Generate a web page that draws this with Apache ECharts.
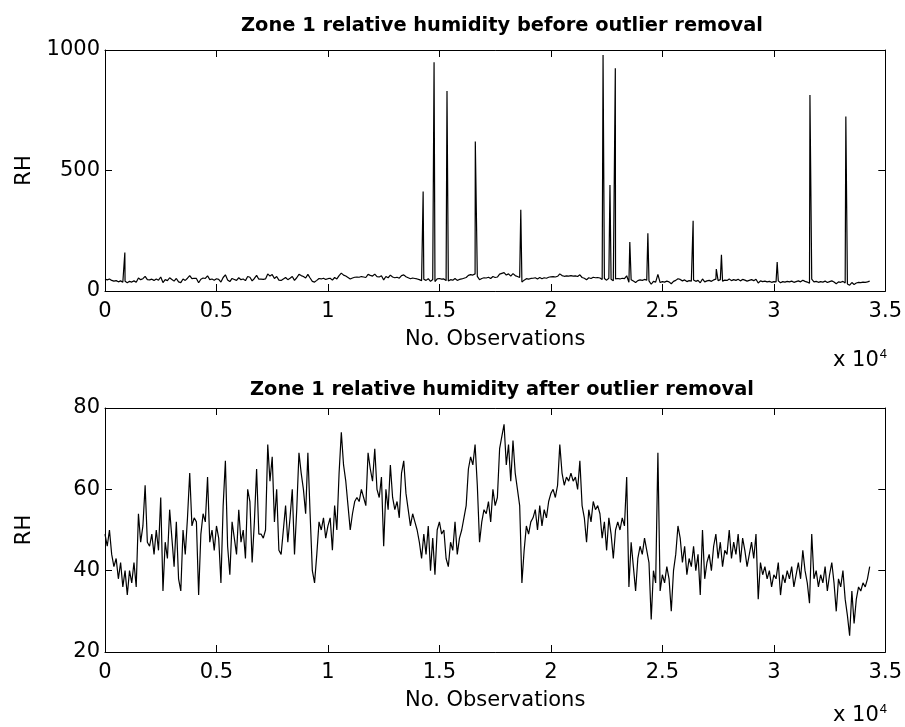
<!DOCTYPE html>
<html lang="en">
<head>
    <meta charset="utf-8">
    <title>Zone 1 relative humidity</title>
    <script src="https://cdn.jsdelivr.net/npm/echarts@6/dist/echarts.min.js"></script>
    <style>
        html, body { margin: 0; padding: 0; background: #fff; }
    </style>
</head>
<body>
<div id="main" style="width:905px;height:727px;"></div>

<script type="text/javascript">
    // RH after outlier removal, one reading every OBS_STEP observations
    var OBS_STEP = 100;
    var RH_CLEAN = [
        49, 46, 50, 44, 41, 43, 38, 42, 36, 40,
        34, 40, 37, 42, 36, 54, 47, 51, 61, 47,
        46, 49, 44, 50, 45, 58, 35, 47, 43, 55,
        48, 41, 52, 38, 35, 50, 44, 53, 64, 51,
        53, 52, 34, 49, 54, 52, 63, 47, 50, 45,
        51, 48, 37, 56, 67, 46, 39, 52, 48, 44,
        55, 47, 50, 43, 60, 57, 42, 52, 65, 49,
        49, 48, 50, 71, 62, 68, 52, 60, 45, 44,
        50, 56, 47, 53, 60, 44, 55, 69, 64, 60,
        54, 69, 54, 40, 37, 44, 52, 50, 53, 48,
        51, 53, 45, 56, 50, 64, 74, 66, 62, 56,
        50, 54, 57, 58, 57, 60, 58, 56, 69, 65,
        62, 70, 60, 58, 63, 46, 60, 55, 66, 58,
        55, 57, 53, 64, 67, 59, 55, 51, 54, 52,
        50, 47, 43, 49, 44, 51, 40, 48, 39, 50,
        52, 49, 50, 43, 41, 47, 45, 52, 44, 48,
        50, 53, 56, 65, 68, 66, 71, 61, 47, 52,
        55, 54, 57, 52, 60, 56, 58, 70, 73, 76,
        66, 71, 62, 72, 64, 60, 56, 37, 45, 51,
        49, 52, 53, 55, 50, 56, 51, 55, 53, 57,
        59, 60, 58, 61, 71, 64, 61, 63, 62, 64,
        62, 63, 60, 67, 56, 53, 47, 55, 52, 57,
        55, 56, 54, 48, 52, 45, 53, 49, 43, 50,
        52, 50, 53, 51, 63, 36, 47, 41, 35, 43,
        46, 44, 48, 45, 42, 28, 40, 37, 69, 35,
        39, 37, 41, 38, 30, 40, 44, 51, 48, 42,
        46, 39, 43, 41, 46, 40, 44, 34, 50, 38,
        42, 44, 40, 46, 49, 43, 47, 41, 45, 44,
        50, 43, 47, 44, 49, 42, 48, 45, 41, 44,
        47, 43, 49, 33, 42, 39, 41, 38, 40, 36,
        39, 38, 42, 34, 39, 37, 40, 38, 41, 36,
        39, 42, 38, 45, 40, 37, 32, 49, 38, 40,
        36, 39, 37, 41, 35, 39, 42, 37, 30, 38,
        36, 40, 33, 29, 24, 35, 27, 33, 36, 35,
        37, 36, 38, 41
    ];

    // spikes that were removed (observation number, RH)
    var OUTLIER_OBS = [890, 14270, 14760, 15340, 16610, 18650, 22340, 22650, 22890,
        23540, 24350, 26380, 27420, 27650, 30150, 31620, 33230];
    var OUTLIER_RH = [160, 413, 949, 830, 620, 337, 979, 440, 924,
        203, 240, 291, 91, 150, 120, 813, 724];

    var X_TICK_LABELS = ['0', '0.5', '1', '1.5', '2', '2.5', '3', '3.5'];

    var FONT = 'DejaVu Sans, sans-serif';
    var FS = 21;

    var cleanData = RH_CLEAN.map(function (v, i) {
        return [i * OBS_STEP, v];
    });
    var rawData = cleanData.concat(OUTLIER_OBS.map(function (x, i) {
        return [x, OUTLIER_RH[i]];
    }));
    rawData.sort(function (a, b) { return a[0] - b[0]; });

    var chart = echarts.init(document.getElementById('main'), null, {renderer: 'canvas'});

    function xAxis(g, pos) {
        var bottom = pos === 'bottom';
        return {
            type: 'value', gridIndex: g, position: pos,
            min: 0, max: 35000, interval: 5000,
            axisLine: {onZero: false, lineStyle: {color: '#000', width: 1}},
            axisTick: {inside: true, length: 7, lineStyle: {color: '#000'}},
            axisLabel: {
                show: bottom, color: '#000', fontFamily: FONT, fontSize: FS, margin: 10,
                formatter: function (v) { return X_TICK_LABELS[Math.round(v / 5000)]; }
            },
            splitLine: {show: false},
            name: bottom ? 'No. Observations' : '',
            nameLocation: 'middle', nameGap: 38,
            nameTextStyle: {color: '#000', fontFamily: FONT, fontSize: FS}
        };
    }

    function yAxis(g, pos, min, max, step) {
        var left = pos === 'left';
        return {
            type: 'value', gridIndex: g, position: pos,
            min: min, max: max, interval: step,
            axisLine: {onZero: false, lineStyle: {color: '#000', width: 1}},
            axisTick: {inside: true, length: 7, lineStyle: {color: '#000'}},
            axisLabel: {show: left, color: '#000', fontFamily: FONT, fontSize: FS, margin: 5,
                formatter: function (v) { return String(v); }},
            splitLine: {show: false},
            name: left ? 'RH' : '',
            nameLocation: 'middle', nameGap: 70, nameRotate: 90,
            nameTextStyle: {color: '#000', fontFamily: FONT, fontSize: FS}
        };
    }

    var titleStyle = {color: '#000', fontFamily: FONT, fontSize: 19.4, fontWeight: 'bold'};

    function powerLabel(top) {
        return {type: 'text', right: 18, top: top, style: {
            text: 'x 10{s|4}', fill: '#000', font: FS + 'px ' + FONT,
            rich: {s: {fontSize: 13, verticalAlign: 'top', padding: [0, 0, 12, 1]}}
        }};
    }

    chart.setOption({
        animation: false,
        backgroundColor: '#fff',
        title: [
            {text: 'Zone 1 relative humidity before outlier removal', left: 497, top: 11,
                textAlign: 'center', textStyle: titleStyle},
            {text: 'Zone 1 relative humidity after outlier removal', left: 497, top: 375,
                textAlign: 'center', textStyle: titleStyle}
        ],
        grid: [
            {left: 105, right: 18, top: 50, height: 241},
            {left: 105, right: 18, top: 408, height: 244}
        ],
        xAxis: [xAxis(0, 'bottom'), xAxis(0, 'top'), xAxis(1, 'bottom'), xAxis(1, 'top')],
        yAxis: [yAxis(0, 'left', 0, 1000, 500), yAxis(0, 'right', 0, 1000, 500),
            yAxis(1, 'left', 20, 80, 20), yAxis(1, 'right', 20, 80, 20)],
        graphic: [powerLabel(348), powerLabel(703)],
        series: [
            {
                type: 'line', xAxisIndex: 0, yAxisIndex: 0, data: rawData,
                showSymbol: false, symbol: 'none', silent: true,
                lineStyle: {color: '#000', width: 1.2}
            },
            {
                type: 'line', xAxisIndex: 2, yAxisIndex: 2, data: cleanData,
                showSymbol: false, symbol: 'none', silent: true,
                lineStyle: {color: '#000', width: 1.2}
            }
        ]
    });
</script>
</body>
</html>
